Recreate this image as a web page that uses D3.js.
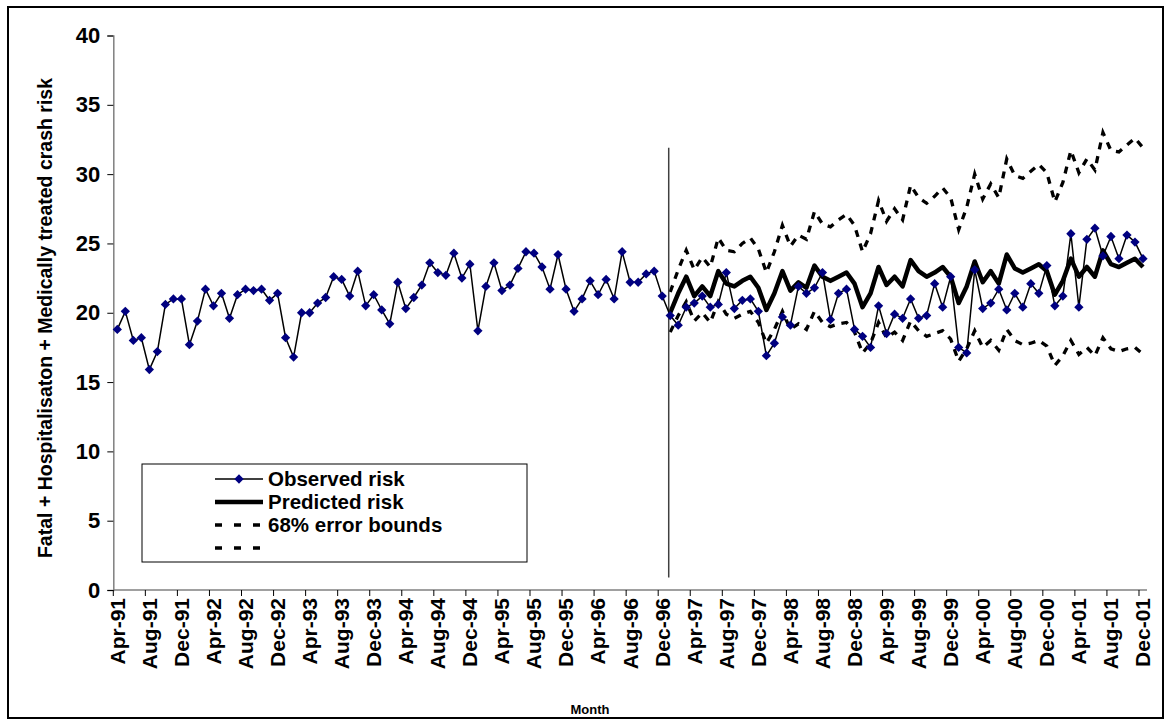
<!DOCTYPE html>
<html>
<head>
<meta charset="utf-8">
<script src="https://cdn.jsdelivr.net/npm/d3@7"></script>
<style>
    body { margin: 0; background: #fff; }
    svg text { font-family: Arial, "Liberation Sans", sans-serif; font-weight: bold; fill: #000; }
</style>
</head>
<body>
<svg id="chart" width="1171" height="724"></svg>
<script>
(function () {
    'use strict';

    // observed monthly risk, Apr-91 .. Dec-01
    var observed = [
        18.8, 20.1, 18.0, 18.2, 15.9, 17.2, 20.6, 21.0, 21.0,
        17.7, 19.4, 21.7, 20.5, 21.4, 19.6, 21.3, 21.7, 21.6, 21.7, 20.9, 21.4,
        18.2, 16.8, 20.0, 20.0, 20.7, 21.1, 22.6, 22.4, 21.2, 23.0, 20.5, 21.3,
        20.2, 19.2, 22.2, 20.3, 21.1, 22.0, 23.6, 22.9, 22.7, 24.3, 22.5, 23.5,
        18.7, 21.9, 23.6, 21.6, 22.0, 23.2, 24.4, 24.3, 23.3, 21.7, 24.2, 21.7,
        20.1, 21.0, 22.3, 21.3, 22.4, 21.0, 24.4, 22.2, 22.2, 22.8, 23.0, 21.2,
        19.8, 19.1, 20.4, 20.7, 21.2, 20.4, 20.6, 22.9, 20.3, 20.9, 21.0, 20.1,
        16.9, 17.8, 19.7, 19.1, 21.9, 21.4, 21.8, 22.9, 19.5, 21.4, 21.7, 18.8,
        18.3, 17.5, 20.5, 18.5, 19.9, 19.6, 21.0, 19.6, 19.8, 22.1, 20.4, 22.6,
        17.5, 17.1, 23.1, 20.3, 20.7, 21.7, 20.2, 21.4, 20.4, 22.1, 21.4, 23.4,
        20.5, 21.2, 25.7, 20.4, 25.3, 26.1, 24.1, 25.5, 23.9, 25.6, 25.1, 23.9
    ];

    // model forecast, Jan-97 .. Dec-01
    var predicted = [
        20.0, 21.4, 22.6, 21.2, 21.9, 21.2, 23.0, 22.1, 21.9, 22.3, 22.6, 21.8,
        20.2, 21.4, 23.0, 21.6, 22.2, 21.8, 23.4, 22.6, 22.3, 22.6, 22.9, 22.1,
        20.4, 21.4, 23.3, 22.0, 22.6, 21.9, 23.8, 23.0, 22.6, 22.9, 23.3, 22.6,
        20.7, 21.9, 23.7, 22.2, 23.0, 22.1, 24.2, 23.2, 22.9, 23.2, 23.5, 23.0,
        21.3, 22.3, 23.9, 22.6, 23.3, 22.6, 24.5, 23.5, 23.3, 23.6, 23.9, 23.3
    ];

    var upperBound = [
        21.5, 23.1, 24.5, 23.1, 24.0, 23.3, 25.4, 24.5, 24.4, 25.0, 25.4, 24.6,
        22.9, 24.4, 26.3, 24.8, 25.6, 25.3, 27.3, 26.4, 26.2, 26.7, 27.1, 26.3,
        24.4, 25.7, 28.1, 26.6, 27.5, 26.7, 29.2, 28.3, 27.9, 28.4, 29.0, 28.3,
        26.0, 27.6, 30.0, 28.2, 29.3, 28.3, 31.1, 29.9, 29.7, 30.2, 30.7, 30.1,
        28.0, 29.4, 31.7, 30.1, 31.1, 30.3, 33.0, 31.7, 31.6, 32.1, 32.6, 31.9
    ];

    var lowerBound = [
        18.6, 19.8, 20.8, 19.4, 20.0, 19.3, 20.8, 19.9, 19.6, 19.9, 20.1, 19.3,
        17.8, 18.8, 20.1, 18.8, 19.2, 18.8, 20.1, 19.3, 19.0, 19.2, 19.3, 18.6,
        17.1, 17.8, 19.3, 18.2, 18.6, 18.0, 19.4, 18.7, 18.3, 18.5, 18.7, 18.1,
        16.5, 17.4, 18.7, 17.5, 18.0, 17.3, 18.8, 18.0, 17.7, 17.8, 18.0, 17.6,
        16.2, 16.9, 18.0, 17.0, 17.5, 16.9, 18.2, 17.4, 17.2, 17.4, 17.5, 17.0
    ];

    var forecastStart = 'Jan-97';
    var dividerRange = [0.9, 31.9];

    var yTicks = [0, 5, 10, 15, 20, 25, 30, 35, 40];

    var tickLabels = [
        'Apr-91', 'Aug-91', 'Dec-91', 'Apr-92', 'Aug-92', 'Dec-92', 'Apr-93', 'Aug-93', 'Dec-93',
        'Apr-94', 'Aug-94', 'Dec-94', 'Apr-95', 'Aug-95', 'Dec-95', 'Apr-96', 'Aug-96', 'Dec-96',
        'Apr-97', 'Aug-97', 'Dec-97', 'Apr-98', 'Aug-98', 'Dec-98', 'Apr-99', 'Aug-99', 'Dec-99',
        'Apr-00', 'Aug-00', 'Dec-00', 'Apr-01', 'Aug-01', 'Dec-01'
    ];

    var legendItems = ['Observed risk', 'Predicted risk', '68% error bounds', ''];

    var fmt = d3.timeFormat('%b-%y');
    var months = d3.timeMonth.range(new Date(1991, 3, 1), new Date(2002, 0, 1)).map(fmt);

    var left = 113.3, right = 1147, top = 35.5, bottom = 590;
    var axisGrey = '#808080';
    var markerFill = '#000080';

    var svg = d3.select('#chart');

    var x = d3.scaleBand().domain(months).range([left, right]).padding(0);
    var bw = x.bandwidth();
    var cx = function (m) { return x(m) + bw / 2; };
    var y = d3.scaleLinear().domain([0, 40]).range([bottom, top]);

    // outer frame
    svg.append('rect')
        .attr('x', 8).attr('y', 7)
        .attr('width', 1155).attr('height', 711)
        .attr('fill', 'none')
        .attr('stroke', '#000')
        .attr('stroke-width', 2);

    // y axis
    var yAxis = svg.append('g')
        .attr('transform', 'translate(' + left + ',0)')
        .call(d3.axisLeft(y).tickValues(yTicks).tickSize(6).tickPadding(7));
    yAxis.select('.domain').attr('stroke', axisGrey).attr('stroke-width', 1.5);
    yAxis.selectAll('.tick line').attr('stroke', '#000');
    yAxis.selectAll('.tick text')
        .style('font-size', '22px')
        .attr('fill', '#000');

    // x axis
    svg.append('line')
        .attr('x1', left).attr('x2', right)
        .attr('y1', bottom).attr('y2', bottom)
        .attr('stroke', axisGrey)
        .attr('stroke-width', 1.5);

    svg.append('g').selectAll('line')
        .data(tickLabels)
        .enter().append('line')
        .attr('x1', function (d) { return x(d); })
        .attr('x2', function (d) { return x(d); })
        .attr('y1', bottom).attr('y2', bottom + 6)
        .attr('stroke', '#000');

    svg.append('g').selectAll('text')
        .data(tickLabels)
        .enter().append('text')
        .attr('transform', function (d) {
            return 'translate(' + cx(d) + ',' + (bottom + 8) + ') rotate(-90)';
        })
        .attr('text-anchor', 'end')
        .attr('dy', '0.35em')
        .style('font-size', '21px')
        .text(function (d) { return d; });

    // axis titles
    svg.append('text')
        .attr('transform', 'translate(52,' + 318 + ') rotate(-90)')
        .attr('text-anchor', 'middle')
        .style('font-size', '19.5px')
        .text('Fatal + Hospitalisaton + Medically treated crash risk');

    svg.append('text')
        .attr('x', 590).attr('y', 714)
        .attr('text-anchor', 'middle')
        .style('font-size', '13px')
        .text('Month');

    // series
    var startIdx = months.indexOf(forecastStart);
    var toPoints = function (values, offset) {
        return values.map(function (v, i) { return { m: months[i + offset], v: v }; });
    };

    var line = d3.line()
        .x(function (d) { return cx(d.m); })
        .y(function (d) { return y(d.v); });

    [upperBound, lowerBound].forEach(function (series) {
        svg.append('path')
            .datum(toPoints(series, startIdx))
            .attr('d', line)
            .attr('fill', 'none')
            .attr('stroke', '#000')
            .attr('stroke-width', 3.3)
            .attr('stroke-dasharray', '7,7');
    });

    svg.append('path')
        .datum(toPoints(predicted, startIdx))
        .attr('d', line)
        .attr('fill', 'none')
        .attr('stroke', '#000')
        .attr('stroke-width', 4.5)
        .attr('stroke-linejoin', 'round');

    // divider at the start of the forecast period
    svg.append('line')
        .attr('x1', cx(forecastStart) - 1.5).attr('x2', cx(forecastStart) - 1.5)
        .attr('y1', y(dividerRange[1])).attr('y2', y(dividerRange[0]))
        .attr('stroke', '#404040')
        .attr('stroke-width', 1.5);

    var obsPoints = toPoints(observed, 0);

    svg.append('path')
        .datum(obsPoints)
        .attr('d', line)
        .attr('fill', 'none')
        .attr('stroke', '#000')
        .attr('stroke-width', 1.5);

    var diamond = d3.symbol().type(d3.symbolDiamond2).size(55);

    svg.append('g').selectAll('path')
        .data(obsPoints)
        .enter().append('path')
        .attr('d', diamond)
        .attr('transform', function (d) { return 'translate(' + cx(d.m) + ',' + y(d.v) + ')'; })
        .attr('fill', markerFill);

    // legend
    var legend = svg.append('g');
    legend.append('rect')
        .attr('x', 142).attr('y', 464)
        .attr('width', 385).attr('height', 98)
        .attr('fill', '#fff')
        .attr('stroke', '#000');

    var rowY = [479, 502, 525, 548];
    var sx1 = 215, sx2 = 263;

    legendItems.forEach(function (label, i) {
        var ly = rowY[i];
        var sample = legend.append('line')
            .attr('x1', sx1).attr('x2', sx2)
            .attr('y1', ly).attr('y2', ly)
            .attr('stroke', '#000');
        if (i === 0) {
            sample.attr('stroke-width', 1.5);
            legend.append('path')
                .attr('d', diamond)
                .attr('transform', 'translate(' + (sx1 + sx2) / 2 + ',' + ly + ')')
                .attr('fill', markerFill);
        } else if (i === 1) {
            sample.attr('stroke-width', 4.5);
        } else {
            sample.attr('stroke-width', 3.3).attr('stroke-dasharray', '7,12');
        }
        if (label) {
            legend.append('text')
                .attr('x', 268).attr('y', ly)
                .attr('dy', '0.35em')
                .style('font-size', '20.5px')
                .text(label);
        }
    });
})();
</script>
</body>
</html>
